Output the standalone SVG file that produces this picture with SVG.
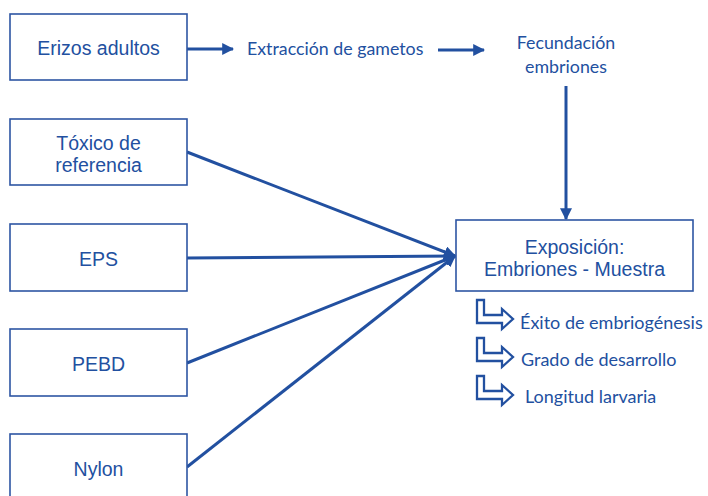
<svg xmlns="http://www.w3.org/2000/svg" width="708" height="496" viewBox="0 0 708 496">
<style>
.box{fill:#fff;stroke:#2d55a3;stroke-width:1.6}
.t{font-family:"Liberation Sans",Arial,sans-serif;font-size:19.5px;fill:#2250a0;text-anchor:middle}
.c{font-family:Lato,"Open Sans",sans-serif;font-size:17.8px;fill:#2250a0}
.o{font-family:Lato,"Open Sans",sans-serif;font-size:18px;fill:#2250a0}
.ln{stroke:#2250a0;stroke-width:3;fill:none}
.la{fill:#fff;stroke:#2250a0;stroke-width:2.3;stroke-linejoin:miter}
</style>
<defs>
<marker id="ah" viewBox="0 0 10 10" refX="9" refY="5" markerWidth="4" markerHeight="4" orient="auto" markerUnits="strokeWidth">
<path d="M0,0 L10,5 L0,10 Z" fill="#2250a0"/>
</marker>
</defs>
<rect width="708" height="496" fill="#fff"/>
<g id="connectors">
<line class="ln" x1="187" y1="49" x2="233" y2="49" marker-end="url(#ah)"/>
<line class="ln" x1="438" y1="50" x2="484" y2="50" marker-end="url(#ah)"/>
<line class="ln" x1="566" y1="86" x2="566" y2="219" marker-end="url(#ah)"/>
<line class="ln" x1="187" y1="152" x2="455" y2="256" marker-end="url(#ah)"/>
<line class="ln" x1="187" y1="258" x2="455" y2="256" marker-end="url(#ah)"/>
<line class="ln" x1="187" y1="363" x2="455" y2="256" marker-end="url(#ah)"/>
<line class="ln" x1="187" y1="467" x2="455" y2="256" marker-end="url(#ah)"/>
</g>
<g id="erizos">
<rect class="box" x="10" y="14" width="177" height="66"/>
<text class="t" x="98.5" y="55">Erizos adultos</text>
</g>
<g id="extraccion">
<text class="c" x="247" y="55">Extracción de gametos</text>
</g>
<g id="fecundacion">
<text class="c" x="566" y="49" text-anchor="middle">Fecundación</text>
<text class="c" x="566" y="73" text-anchor="middle">embriones</text>
</g>
<g id="toxico">
<rect class="box" x="10" y="119" width="177" height="66"/>
<text class="t" x="98.5" y="150">Tóxico de</text>
<text class="t" x="98.5" y="172">referencia</text>
</g>
<g id="eps">
<rect class="box" x="10" y="224" width="177" height="67"/>
<text class="t" x="98.5" y="266">EPS</text>
</g>
<g id="pebd">
<rect class="box" x="10" y="329" width="177" height="67"/>
<text class="t" x="98.5" y="371">PEBD</text>
</g>
<g id="nylon">
<rect class="box" x="10" y="434" width="177" height="70"/>
<text class="t" x="98.5" y="476">Nylon</text>
</g>
<g id="exposicion">
<rect class="box" x="456" y="220" width="237" height="71"/>
<text class="t" x="574.5" y="254">Exposición:</text>
<text class="t" x="574.5" y="276">Embriones - Muestra</text>
</g>
<g id="exito">
<path class="la" d="M477,300 H484 V315 H502 V309 L513,319 L502,329 V323 H477 Z"/>
<text class="o" x="520" y="329">Éxito de embriogénesis</text>
</g>
<g id="grado">
<path class="la" d="M477,338 H484 V353 H502 V347 L513,357 L502,367 V361 H477 Z"/>
<text class="o" x="521" y="366">Grado de desarrollo</text>
</g>
<g id="longitud">
<path class="la" d="M477,376 H484 V391 H502 V385 L513,395 L502,405 V399 H477 Z"/>
<text class="o" x="525" y="403">Longitud larvaria</text>
</g>
</svg>
